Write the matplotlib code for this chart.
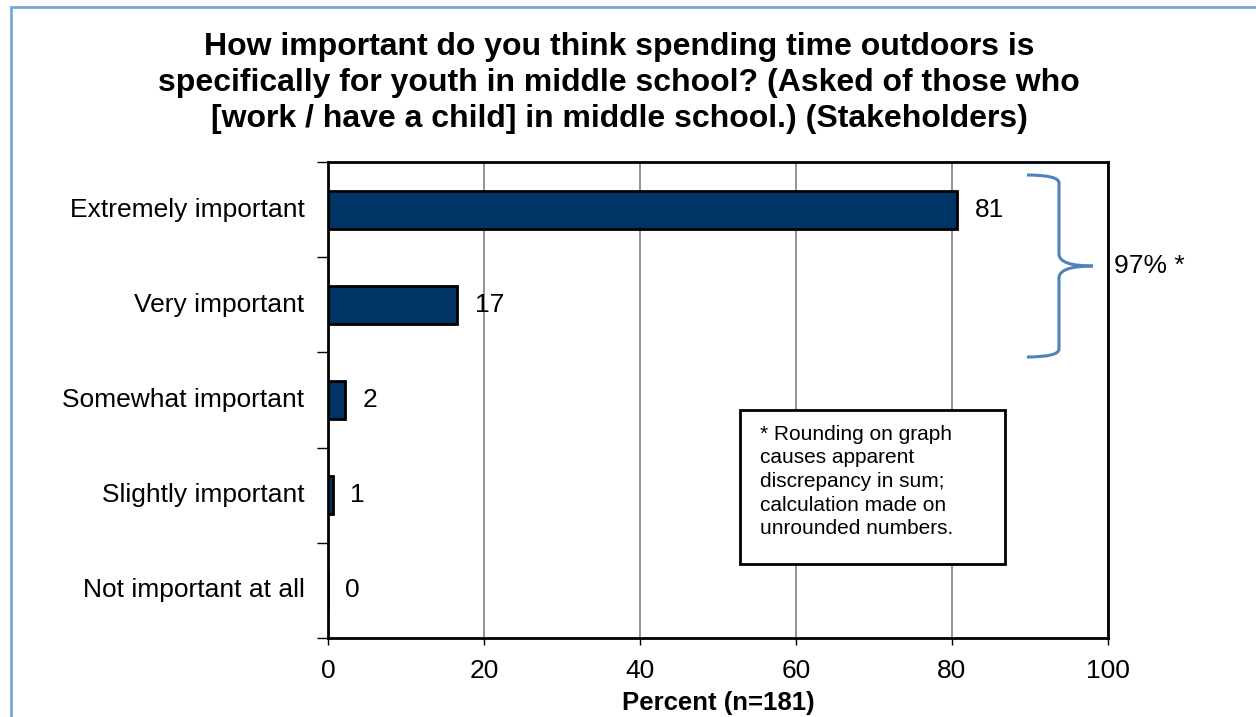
import matplotlib.pyplot as plt
from matplotlib.patches import Rectangle
from matplotlib.path import Path
from matplotlib.patches import PathPatch

plt.rcParams['font.family'] = ['Liberation Sans', 'DejaVu Sans']

# survey answers, top to bottom
categories = ['Extremely important', 'Very important', 'Somewhat important',
              'Slightly important', 'Not important at all']
percents = [80.7, 16.6, 2.2, 0.6, 0.0]
xticks = [0, 20, 40, 60, 80, 100]

title = ('How important do you think spending time outdoors is\n'
         'specifically for youth in middle school? (Asked of those who\n'
         '[work / have a child] in middle school.) (Stakeholders)')
note = ('* Rounding on graph\ncauses apparent\ndiscrepancy in sum;\n'
        'calculation made on\nunrounded numbers.')
top_two = round(percents[0] + percents[1])

W, H = 1256, 717
fs = 19
fig = plt.figure(figsize=(W / 100, H / 100), dpi=100)
fig.patch.set_facecolor('white')

# light blue frame around the chart area
fig.add_artist(Rectangle((11 / W, -0.05), 1.1, 1 - 7 / H + 0.05,
                         transform=fig.transFigure, fill=False,
                         edgecolor='#7aa6e0', linewidth=2))

ax = fig.add_axes([328 / W, 1 - 638 / H, 780 / W, 476 / H])

y = list(range(len(categories)))
ax.barh(y, percents, height=0.4, color='#003366', edgecolor='black',
        linewidth=2, zorder=3)
for yi, v in zip(y, percents):
    ax.text(v + 2.2, yi, f'{v:.0f}', va='center', ha='left', fontsize=fs)

ax.set_xlim(0, 100)
ax.set_ylim(len(categories) - 0.5, -0.5)
ax.set_xticks(xticks)
ax.set_xticklabels([str(t) for t in xticks], fontsize=fs)
ax.xaxis.grid(True, color='#808080', linewidth=1.2, zorder=0)

# category labels in the middle of each band, ticks on band edges
ax.set_yticks([i - 0.5 for i in range(len(categories) + 1)])
ax.set_yticklabels([])
ax.tick_params(axis='y', length=8, width=1, direction='out')
ax.tick_params(axis='x', length=5, width=1, direction='out', pad=10)
for yi, c in zip(y, categories):
    ax.text(-0.03, yi, c, transform=ax.get_yaxis_transform(),
            ha='right', va='center', fontsize=fs)

for s in ax.spines.values():
    s.set_linewidth(2)
ax.set_xlabel('Percent (n=181)', fontsize=18.5, fontweight='bold', labelpad=6)

fig.text(619 / W, 1 - 83 / H, title, ha='center', va='center',
         fontsize=23, fontweight='bold', linespacing=1.26)

# note box
ax.add_patch(Rectangle((52.8, 2.105), 34.0, 1.615, facecolor='white',
                       edgecolor='black', linewidth=2, zorder=5))
ax.text(55.4, 2.26, note, ha='left', va='top', fontsize=15,
        linespacing=1.31, zorder=6)

# curly brace grouping the top two answers
def brace(x0, xm, xt, ytop, ymid, ybot):
    verts = [(x0, ytop), (xm, ytop), (xm, ytop + 8), (xm, ymid - 12),
             (xm, ymid), (xt, ymid)]
    verts2 = [(x0, ybot), (xm, ybot), (xm, ybot - 8), (xm, ymid + 12),
              (xm, ymid), (xt, ymid)]
    codes = [Path.MOVETO, Path.CURVE3, Path.CURVE3, Path.LINETO,
             Path.CURVE3, Path.CURVE3]
    tr = lambda p: (p[0] / W, 1 - p[1] / H)
    for vs in (verts, verts2):
        path = Path([tr(p) for p in vs], codes)
        fig.add_artist(PathPatch(path, transform=fig.transFigure, fill=False,
                                 edgecolor='#4f81bd', linewidth=2.2))

brace(1027, 1059, 1093, 175, 266, 357)
fig.text(1114 / W, 1 - 266 / H, f'{top_two}% *', ha='left', va='center',
         fontsize=fs)

fig.savefig('out.png', dpi=100)
